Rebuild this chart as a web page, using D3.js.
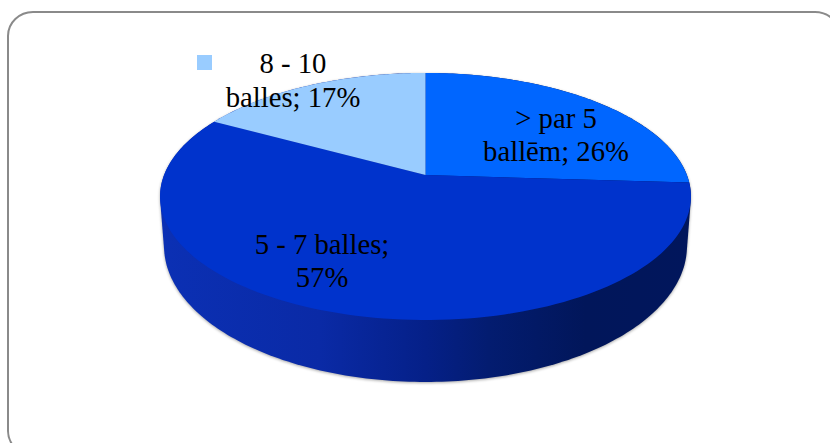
<!DOCTYPE html>
<html>
<head>
<meta charset="utf-8">
<script src="https://cdn.jsdelivr.net/npm/d3@7"></script>
<style>
  html, body { margin: 0; padding: 0; background: #fff; overflow: hidden; }
  text { font-family: "Liberation Serif", serif; font-size: 28.7px; fill: #000; text-anchor: middle; }
</style>
</head>
<body>
<div id="chart"></div>
<script>
// Values
const labels = [['> par 5', 'ballēm; 26%'], ['5 - 7 balles;', '57%'], ['8 - 10', 'balles; 17%']];
const values = [26, 57, 17];
const colors = ['#0066ff', '#0033cc', '#99ccff'];

const width = 830, height = 443;

const svg = d3.select('#chart').append('svg')
    .attr('width', width)
    .attr('height', height)
    .style('display', 'block');

// Frame runs off the right and bottom of the picture
svg.append('rect')
    .attr('x', 8).attr('y', 12)
    .attr('width', 832).attr('height', 443)
    .attr('rx', 25).attr('ry', 24)
    .attr('fill', '#fff')
    .attr('stroke', '#8a8a8a')
    .attr('stroke-width', 2);

const defs = svg.append('defs');

const wallGrad = defs.append('linearGradient')
    .attr('id', 'wall')
    .attr('gradientUnits', 'userSpaceOnUse')
    .attr('x1', 160).attr('x2', 691).attr('y1', 0).attr('y2', 0);
[[0, '#0b30b4'], [0.3, '#0a2aa6'], [0.5, '#052088'], [0.62, '#031c70'], [0.8, '#01165a'], [1, '#01165c']]
    .forEach(([o, c]) => wallGrad.append('stop').attr('offset', o).attr('stop-color', c));

const blur = defs.append('filter')
    .attr('id', 'soft')
    .attr('x', '-5%').attr('y', '-5%').attr('width', '110%').attr('height', '110%');
blur.append('feGaussianBlur').attr('stdDeviation', 1.5);

// Perspective view of the disc: the far side is squeezed, so the apex sits above the ellipse centre
const cx = 425.5, cy = 175;
const tilt = 0.174, halfX = 261.4, halfY = 119.8;
// Bottom rim is a little narrower and rounder than the top one
const bottomDrop = 47.4, bottomScaleX = 0.985, bottomScaleY = 1.10;

function rim(angle, drop = 0, scaleX = 1, scaleY = 1) {
    const u = Math.sin(angle), v = Math.cos(angle);
    const w = 1 + tilt * v;
    return [cx + scaleX * halfX * u / w, cy + drop + scaleY * (-halfY * v / w)];
}

const pie = d3.pie().sort(null).value(d => d);
const slices = pie(values);
const lineGen = d3.line();

// Side wall = hull of top and bottom rims; the top slices cover the back part
const fullTurn = d3.range(0, 360).map(d => d * Math.PI / 180);
const hull = d3.polygonHull(
    fullTurn.map(a => rim(a)).concat(fullTurn.map(a => rim(a, bottomDrop, bottomScaleX, bottomScaleY)))
);

svg.append('path')
    .attr('d', lineGen(hull) + 'Z')
    .attr('fill', '#000')
    .attr('opacity', 0.35)
    .attr('transform', 'translate(0,1)')
    .attr('filter', 'url(#soft)');

svg.append('path')
    .attr('d', lineGen(hull) + 'Z')
    .attr('fill', 'url(#wall)');

// Top slices
svg.selectAll('path.slice')
    .data(slices)
    .join('path')
    .attr('class', 'slice')
    .attr('fill', (d, i) => colors[i])
    .attr('d', d => {
        const steps = d3.range(0, 121).map(i => d.startAngle + (d.endAngle - d.startAngle) * i / 120);
        return lineGen([[cx, cy]].concat(steps.map(a => rim(a)))) + 'Z';
    });

// Data labels
const labelAt = [
    { x: 556, y: [128, 161] },
    { x: 322, y: [254, 287] },
    { x: 293, y: [73, 107] }
];

labels.forEach((lines, i) => {
    lines.forEach((line, j) => {
        svg.append('text')
            .attr('x', labelAt[i].x)
            .attr('y', labelAt[i].y[j])
            .text(line);
    });
});

// Legend key left beside the third label
svg.append('rect')
    .attr('x', 197).attr('y', 55)
    .attr('width', 15).attr('height', 15)
    .attr('fill', colors[2]);
</script>
</body>
</html>
